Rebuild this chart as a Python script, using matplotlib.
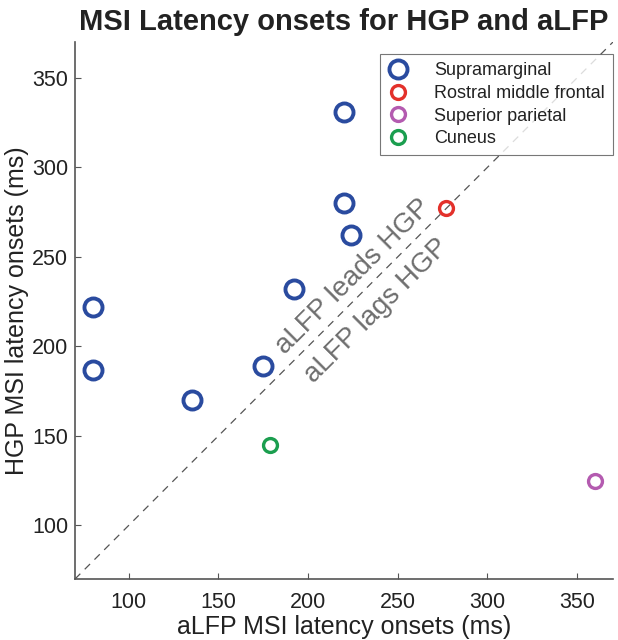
import numpy as np
import matplotlib.pyplot as plt

plt.rcParams['font.family'] = ['Liberation Sans', 'DejaVu Sans']

# latency onsets (ms): x = aLFP, y = HGP
supra_x = [80, 80, 135, 175, 192, 220, 220, 224]
supra_y = [222, 187, 170, 189, 232, 331, 280, 262]
rostral_x = [277]
rostral_y = [277]
superior_x = [360]
superior_y = [125]
cuneus_x = [179]
cuneus_y = [145]

ticks = [100, 150, 200, 250, 300, 350]
lims = (70, 370)

fig = plt.figure(figsize=(6.18, 6.4), dpi=100)
ax = fig.add_axes([75/618, 61/640, 538/618, 537/640])

ax.plot(lims, lims, '--', color='#555555', lw=0.9, dashes=(6, 5), zorder=1)

ax.plot(supra_x, supra_y, 'o', ms=13, mfc='none', mec='#2a4b9f', mew=2.8, label='Supramarginal', ls='none')
ax.plot(rostral_x, rostral_y, 'o', ms=10, mfc='none', mec='#e3312b', mew=2.4, label='Rostral middle frontal', ls='none')
ax.plot(superior_x, superior_y, 'o', ms=10, mfc='none', mec='#b45bb0', mew=2.4, label='Superior parietal', ls='none')
ax.plot(cuneus_x, cuneus_y, 'o', ms=10, mfc='none', mec='#1b9e4f', mew=2.4, label='Cuneus', ls='none')

ax.text(225, 239, 'aLFP leads HGP', rotation=45, ha='center', va='center',
        fontsize=20, color='#6e6e6e', rotation_mode='anchor')
ax.text(238, 220, 'aLFP lags HGP', rotation=45, ha='center', va='center',
        fontsize=20, color='#6e6e6e', rotation_mode='anchor')

ax.set_xlim(lims)
ax.set_ylim(lims)
ax.set_xticks(ticks)
ax.set_yticks(ticks)
ax.tick_params(direction='in', length=4, width=0.8, color='#555555', labelsize=15.5, pad=5,
               labelcolor='#222222')
ax.tick_params(axis='x', pad=9)
for s in ['top', 'right']:
    ax.spines[s].set_visible(False)
for s in ['left', 'bottom']:
    ax.spines[s].set_color('#555555')
    ax.spines[s].set_linewidth(1.2)

ax.set_xlabel('aLFP MSI latency onsets (ms)', fontsize=18, labelpad=2, color='#222222')
ax.set_ylabel('HGP MSI latency onsets (ms)', fontsize=18, labelpad=2, color='#222222')
ax.set_title('MSI Latency onsets for HGP and aLFP', fontsize=21, fontweight='bold', pad=9,
             color='#222222')

leg = ax.legend(loc='upper right', fontsize=13, frameon=True, fancybox=False,
                edgecolor='#555555', borderpad=0.45, labelspacing=0.31, handletextpad=1.42,
                handlelength=1.15, borderaxespad=0, bbox_to_anchor=(1.0, 0.977))
leg.get_frame().set_linewidth(0.8)
for t in leg.get_texts():
    t.set_color('#222222')

fig.savefig('out.png', dpi=100)
